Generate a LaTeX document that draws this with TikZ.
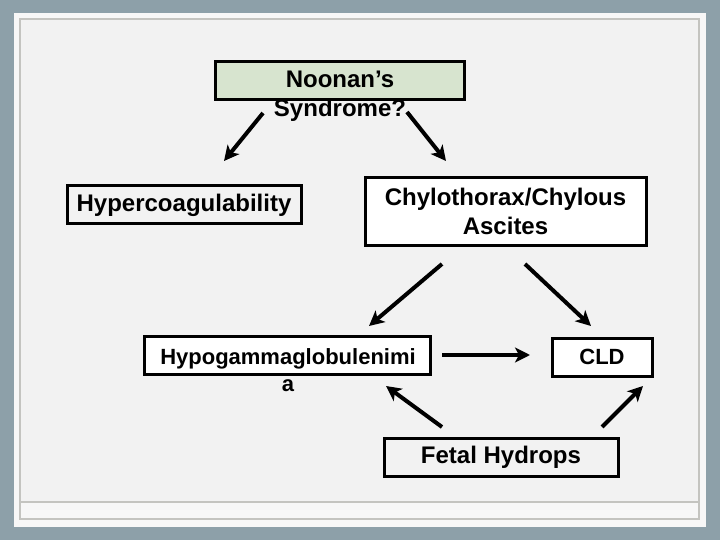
\documentclass[tikz,border=0pt]{standalone}
\usepackage{fontspec}
\setmainfont{Liberation Sans}
\usepackage{xcolor}
\usetikzlibrary{arrows.meta,positioning,calc}
\definecolor{slateframe}{HTML}{8DA0A9}
\definecolor{panelwhite}{HTML}{F7F7F7}
\definecolor{panelgray}{HTML}{F2F2F2}
\definecolor{ruleline}{HTML}{C4C4C0}
\definecolor{softgreen}{HTML}{D7E4CF}
\definecolor{inkblack}{HTML}{000000}

\begin{document}
\begin{tikzpicture}[
  x=1pt,y=-1pt,
  font=\fontsize{24}{28.8}\selectfont\bfseries,
  box/.style={
    draw=inkblack,
    fill=white,
    line width=3pt,
    inner sep=0pt,
    align=center
  },
  lead/.style={box,fill=softgreen},
  plain/.style={box,fill=panelgray},
  label/.style={align=center,inner sep=0pt},
  small/.style={font=\fontsize{22}{27.5}\selectfont\bfseries},
  flow/.style={-{Stealth[length=15pt,width=15pt,inset=4pt]},draw=inkblack,line width=4pt}
]
  % slide background and frame
  \fill[slateframe] (0,0) rectangle (720,540);
  \fill[panelwhite] (14,13) rectangle (706,527);
  \fill[panelgray] (20,19) rectangle (699,502);
  \draw[ruleline,line width=2pt] (20,19) rectangle (699,519);
  \draw[ruleline,line width=2pt] (20,502) -- (699,502);

  \node[lead,minimum width=249pt,minimum height=38pt] (noonan) at (340,81) {};
  \node[label] (noonantext) at (340,96) {Noonan’s\\Syndrome?};

  \node[plain,minimum width=234pt,minimum height=38pt] (hyper) at (184,205) {Hypercoagulability};
  \node[box,minimum width=281pt,minimum height=67pt] (chylo) at (505.5,211.5) {Chylothorax/Chylous\\Ascites};

  \node[box,minimum width=286pt,minimum height=38pt] (hypogamma) at (287,355) {};
  \node[label,small] (hypogammatext) at (288,370) {Hypogammaglobulenimi\\a};
  \node[box,small,minimum width=100pt,minimum height=38pt] (cld) at (602,357) {CLD};
  \node[plain,minimum width=234pt,minimum height=38pt] (fetal) at (501,457) {Fetal Hydrops};

  % arrow ends
  \coordinate (noonanleft) at (263,113);
  \coordinate (hyperend) at (224,161);
  \coordinate (noonanright) at (407,112);
  \coordinate (chyloend) at (446,161);
  \coordinate (chyloleft) at (442,264);
  \coordinate (hypogammaend) at (369,326);
  \coordinate (chyloright) at (525,264);
  \coordinate (cldtop) at (591,326);
  \coordinate (hypogammaright) at (442,355);
  \coordinate (cldleft) at (530,355);
  \coordinate (fetalleft) at (442,427);
  \coordinate (hypogammalow) at (386,386);
  \coordinate (fetalright) at (602,427);
  \coordinate (cldlow) at (643,386);

  \draw[flow] (noonanleft) -- (hyperend);
  \draw[flow] (noonanright) -- (chyloend);
  \draw[flow] (chyloleft) -- (hypogammaend);
  \draw[flow] (chyloright) -- (cldtop);
  \draw[flow] (hypogammaright) -- (cldleft);
  \draw[flow] (fetalleft) -- (hypogammalow);
  \draw[flow] (fetalright) -- (cldlow);
\end{tikzpicture}
\end{document}
